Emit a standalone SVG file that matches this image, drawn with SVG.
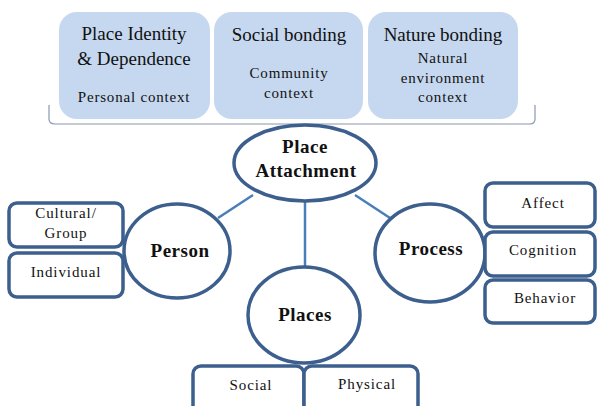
<svg xmlns="http://www.w3.org/2000/svg" width="597" height="406" viewBox="0 0 597 406">
<style>
.top{fill:#c6d8ef;stroke:none}
.t1{font-family:'Liberation Serif','Times New Roman',Times,serif;font-size:19px;fill:#111;text-anchor:middle}
.t2{font-family:'Liberation Serif','Times New Roman',Times,serif;font-size:15px;fill:#111;text-anchor:middle;letter-spacing:0.8px}
.node{fill:#fff;stroke:#3c5f8e;stroke-width:3.5}
.nb{font-family:'Liberation Serif','Times New Roman',Times,serif;font-size:19px;font-weight:bold;fill:#111;text-anchor:middle;letter-spacing:0.5px}
.box{fill:#fff;stroke:#3c5f8e;stroke-width:3.5}
.bl{font-family:'Liberation Serif','Times New Roman',Times,serif;font-size:15px;fill:#111;text-anchor:middle;letter-spacing:0.9px}
.conn{stroke:#4a7ebb;stroke-width:2.5;fill:none}
</style>
<rect width="597" height="406" fill="#fff"/>
<g id="top-identity">
<rect class="top" x="59" y="12" width="151" height="107" rx="18"/>
<text class="t1" x="134" y="40">Place Identity</text>
<text class="t1" x="134" y="65">&amp; Dependence</text>
<text class="t2" x="134" y="102">Personal context</text>
</g>
<g id="top-social">
<rect class="top" x="214" y="12" width="149" height="107" rx="18"/>
<text class="t1" x="289" y="41">Social bonding</text>
<text class="t2" x="289" y="78">Community</text>
<text class="t2" x="289" y="98">context</text>
</g>
<g id="top-nature">
<rect class="top" x="368" y="12" width="150" height="107" rx="18"/>
<text class="t1" x="443" y="41">Nature bonding</text>
<text class="t2" x="443" y="63">Natural</text>
<text class="t2" x="443" y="83">environment</text>
<text class="t2" x="443" y="102">context</text>
</g>
<path id="bracket" d="M49,105 L49,119 Q49,124 55,124 L530,124 Q535,124 535,119 L535,105" fill="none" stroke="#8a98b0" stroke-width="1.2"/>
<g id="connectors">
<line class="conn" x1="218" y1="218" x2="253" y2="195"/>
<line class="conn" x1="355" y1="195" x2="390" y2="218"/>
<line class="conn" x1="305" y1="201" x2="305" y2="267"/>
</g>
<g id="place-attachment">
<ellipse class="node" cx="305" cy="163" rx="71" ry="38"/>
<text class="nb" x="305" y="153">Place</text>
<text class="nb" x="306" y="177">Attachment</text>
</g>
<g id="person">
<ellipse class="node" cx="177" cy="251" rx="53" ry="47"/>
<text class="nb" x="180" y="257">Person</text>
</g>
<g id="process">
<ellipse class="node" cx="430" cy="253" rx="55" ry="49"/>
<text class="nb" x="431" y="255">Process</text>
</g>
<g id="places">
<ellipse class="node" cx="304" cy="315" rx="56" ry="48"/>
<text class="nb" x="305" y="321">Places</text>
</g>
<g id="cultural-group">
<rect class="box" x="9" y="203" width="114" height="44" rx="8"/>
<text class="bl" x="66" y="218">Cultural/</text>
<text class="bl" x="66" y="238">Group</text>
</g>
<g id="individual">
<rect class="box" x="9" y="253" width="114" height="44" rx="8"/>
<text class="bl" x="66" y="277">Individual</text>
</g>
<g id="affect">
<rect class="box" x="485" y="183" width="110" height="44" rx="8"/>
<text class="bl" x="543" y="208">Affect</text>
</g>
<g id="cognition">
<rect class="box" x="485" y="232" width="110" height="44" rx="8"/>
<text class="bl" x="543" y="255">Cognition</text>
</g>
<g id="behavior">
<rect class="box" x="485" y="280" width="110" height="43" rx="8"/>
<text class="bl" x="545" y="303">Behavior</text>
</g>
<g id="social">
<rect class="box" x="193" y="366" width="111" height="50" rx="8"/>
<text class="bl" x="251" y="390">Social</text>
</g>
<g id="physical">
<rect class="box" x="304" y="366" width="114" height="50" rx="8"/>
<text class="bl" x="367" y="389">Physical</text>
</g>
</svg>
